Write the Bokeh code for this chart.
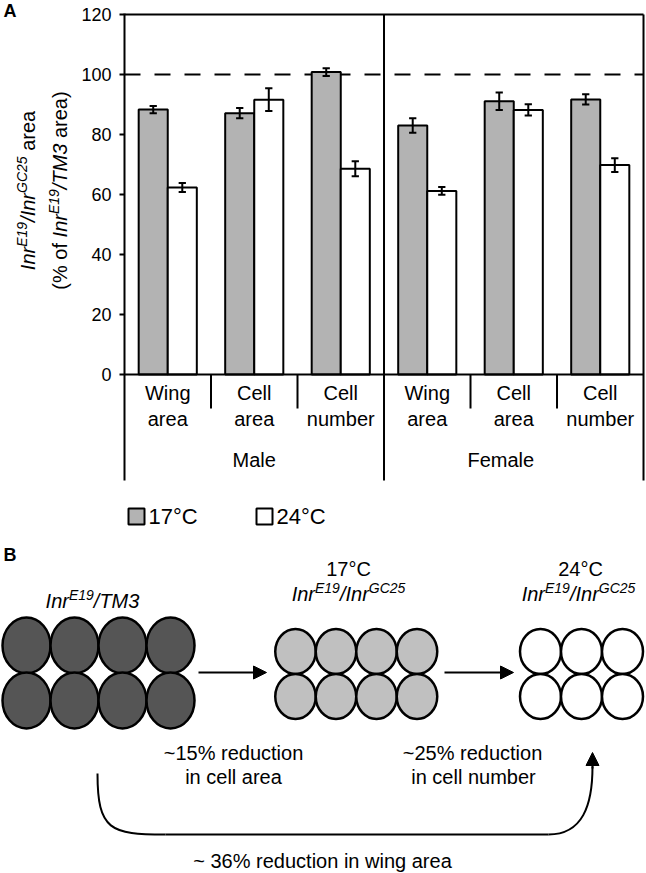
import math
import numpy as np
from bokeh.plotting import figure
from bokeh.layouts import row, column
from bokeh.models import Range1d, FixedTicker, Arrow, NormalHead
from bokeh.core.properties import value
from bokeh.embed import file_html
from bokeh.resources import INLINE

# ---------------- data (panel A) ----------------
label_line1 = ["Wing", "Cell", "Cell", "Wing", "Cell", "Cell"]
label_line2 = ["area", "area", "number", "area", "area", "number"]
sexes = ["Male", "Female"]
temps = ["17°C", "24°C"]
val_17 = [88.3, 87.1, 100.8, 83.0, 91.1, 91.7]
err_17 = [1.2, 1.7, 1.3, 2.4, 2.9, 1.7]
val_24 = [62.3, 91.6, 68.6, 61.2, 88.2, 69.8]
err_24 = [1.5, 3.8, 2.5, 1.3, 1.9, 2.3]
y_ticks = [0, 20, 40, 60, 80, 100, 120]
reference_level = 100

# ---------------- data (panel B) ----------------
cells_per_row = [4, 4, 3]
b_titles_temp = ["17°C", "24°C"]
b_notes = [("~15% reduction", "in cell area"), ("~25% reduction", "in cell number")]
b_total = "~ 36% reduction in wing area"

FONT = "Liberation Sans"
GRAY = "#b3b3b3"

AW = {' ': 278, '(': 333, ')': 333, '%': 889, '/': 278, '~': 584, '°': 400, '.': 278,
      'A': 667, 'B': 667, 'C': 722, 'E': 667, 'F': 611, 'G': 778, 'I': 278, 'M': 833,
      'T': 611, 'W': 944, 'a': 556, 'b': 556, 'c': 500, 'd': 556, 'e': 556, 'f': 278,
      'g': 556, 'h': 556, 'i': 222, 'l': 222, 'm': 833, 'n': 556, 'o': 556, 'r': 333,
      's': 500, 't': 278, 'u': 556, 'w': 722}


def tw(s, size):
    return sum(AW.get(c, 556) for c in s) * size / 1000.0


def rich(p, pieces, x, y, size, anchor="center", angle=0.0, sup_scale=0.7, sup_raise=0.3):
    ssize = size * sup_scale
    widths = [tw(t, ssize if s else size) for t, i, s in pieces]
    total = sum(widths)
    pos = -total / 2 if anchor == "center" else 0.0
    for (t, it, s), w in zip(pieces, widths):
        fs = ssize if s else size
        r = size * sup_raise if s else 0.0
        lead = len(t) - len(t.lstrip(" "))
        d = pos + tw(" " * lead, fs)
        if angle == 0:
            px, py = x + d, y - r
        else:
            px, py = x - r, y - d
        p.text(x=[px], y=[py], text=[t.strip(" ")], angle=angle, text_font=value(FONT),
               text_font_size=value(f"{fs:.1f}px"),
               text_font_style="italic" if it else "normal",
               text_align="left", text_baseline="alphabetic", text_color="black")
        pos += w


def plain(p, xs, ys, texts, size, align="center", style="normal"):
    p.text(x=xs, y=ys, text=texts, text_font=value(FONT), text_font_size=value(f"{size}px"),
           text_font_style=style, text_align=align, text_baseline="alphabetic", text_color="black")


def blank(p):
    p.xgrid.visible = False
    p.ygrid.visible = False
    p.outline_line_color = None
    p.background_fill_color = "white"
    p.border_fill_color = "white"


W_TOTAL, H_TOTAL = 646, 873
WY = 78
HA = 484
BOT = 4
PX_PER_UNIT = 3.0
Y_TOP = 120 + 14 / PX_PER_UNIT
Y_BOT = Y_TOP - (HA - BOT) / PX_PER_UNIT

# ---------------- left strip: y-axis title ----------------
pY = figure(width=WY, height=HA, x_range=Range1d(0, WY), y_range=Range1d(HA - BOT, 0),
            output_backend="svg", toolbar_location=None, x_axis_location=None,
            y_axis_location=None, title=None, min_border_left=0, min_border_right=0,
            min_border_top=0, min_border_bottom=BOT)
blank(pY)
plain(pY, [3], [10], ["A"], 18, align="left", style="bold")
rich(pY, [("Inr", True, False), ("E19", True, True), ("/", True, False), ("Inr", True, False),
          ("GC25", True, True), (" area", False, False)], 27, 190, 20, angle=math.pi / 2)
rich(pY, [("(% of ", False, False), ("Inr", True, False), ("E19", True, True),
          ("/TM3", True, False), (" area)", False, False)], 59, 190, 20, angle=math.pi / 2)

# ---------------- panel A: bar chart ----------------
pA = figure(width=W_TOTAL - WY, height=HA, x_range=Range1d(0, 6.023), y_range=Range1d(Y_BOT, Y_TOP),
            output_backend="svg", toolbar_location=None, x_axis_location=None,
            y_axis_location="left", title=None, min_border_left=46, min_border_right=1,
            min_border_top=0, min_border_bottom=BOT)
blank(pA)
ax = pA.yaxis[0]
ax.ticker = FixedTicker(ticks=y_ticks)
ax.bounds = (Y_BOT, 120.3)
ax.axis_line_width = 2
ax.axis_line_color = "black"
ax.major_tick_line_width = 2
ax.major_tick_line_color = "black"
ax.major_tick_out = 5
ax.major_tick_in = 0
ax.minor_tick_line_color = None
ax.major_label_text_font = FONT
ax.major_label_text_font_size = "18px"
ax.major_label_text_color = "black"
ax.major_label_standoff = 8

n = len(val_17)
centers = np.arange(n) + 0.5
off = 0.168
bw = 0.336

pA.line(x=[0, n], y=[reference_level, reference_level], line_color="black",
        line_width=2, line_dash="16 14")

pA.vbar(x=centers - off, top=val_17, bottom=0, width=bw, fill_color=GRAY,
        line_color="black", line_width=2)
pA.vbar(x=centers + off, top=val_24, bottom=0, width=bw, fill_color="white",
        line_color="black", line_width=2)

cap = 0.042
for xs, v, e in ((centers - off, val_17, err_17), (centers + off, val_24, err_24)):
    v = np.array(v)
    e = np.array(e)
    lo, hi = v - e, v + e
    pA.segment(x0=xs, y0=lo, x1=xs, y1=hi, line_color="black", line_width=2)
    pA.segment(x0=xs - cap, y0=lo, x1=xs + cap, y1=lo, line_color="black", line_width=2)
    pA.segment(x0=xs - cap, y0=hi, x1=xs + cap, y1=hi, line_color="black", line_width=2)

pA.segment(x0=[0, 0], y0=[0, 120], x1=[n, n], y1=[0, 120], line_color="black", line_width=2)
minor_x = [1, 2, 4, 5]
pA.segment(x0=minor_x, y0=[0] * 4, x1=minor_x, y1=[-11.3] * 4, line_color="black", line_width=2)
pA.segment(x0=[3, 6], y0=[-40, -40], x1=[3, 6], y1=[120, 120], line_color="black", line_width=2)

plain(pA, list(centers), [-6.0] * n, label_line1, 20)
plain(pA, list(centers), [-14.67] * n, label_line2, 20)
plain(pA, [1.5, 4.35], [-28.4, -28.4], sexes, 20)

# ---------------- panel B: legend + schematic ----------------
HB = H_TOTAL - HA
pB = figure(width=W_TOTAL, height=HB, x_range=Range1d(0, W_TOTAL), y_range=Range1d(H_TOTAL, HA),
            output_backend="svg", toolbar_location=None, x_axis_location=None,
            y_axis_location=None, title=None, min_border=0)
blank(pB)

pB.rect(x=[136, 264], y=[516, 516], width=16, height=16, fill_color=[GRAY, "white"],
        line_color="black", line_width=2)
plain(pB, [148, 276], [516, 516], temps, 22, align="left")

plain(pB, [3], [554], ["B"], 18, align="left", style="bold")

rich(pB, [("Inr", True, False), ("E19", True, True), ("/TM3", True, False)], 92, 600, 20)
plain(pB, [348, 580], [568, 568], b_titles_temp, 20)
for cx in (348, 578):
    rich(pB, [("Inr", True, False), ("E19", True, True), ("/", True, False),
              ("Inr", True, False), ("GC25", True, True)], cx, 593, 20)

groups = [
    dict(xs=[26, 74, 122, 170], ys=[645, 700], w=48, h=56, fill="#555555"),
    dict(xs=[295, 335.5, 376, 416.5], ys=[651, 696], w=40.5, h=45, fill="#c0c0c0"),
    dict(xs=[540, 581, 622], ys=[651, 696], w=41, h=45, fill="white"),
]
for g, k in zip(groups, cells_per_row):
    ex = [g["xs"][i] for _ in g["ys"] for i in range(k)]
    ey = [yy for yy in g["ys"] for _ in range(k)]
    pB.ellipse(x=ex, y=ey, width=g["w"], height=g["h"], fill_color=g["fill"],
               line_color="black", line_width=2.5)

for xs, xe in ((198, 266), (444, 513)):
    pB.add_layout(Arrow(x_start=xs, y_start=672, x_end=xe, y_end=672, line_width=2,
                        line_color="black",
                        end=NormalHead(size=13, fill_color="black", line_color="black")))

pB.bezier(x0=[97], y0=[773], x1=[165], y1=[834], cx0=[97], cy0=[830], cx1=[110], cy1=[834],
          line_color="black", line_width=2)
pB.segment(x0=[165], y0=[834], x1=[548], y1=[834], line_color="black", line_width=2)
pB.bezier(x0=[548], y0=[834], x1=[592], y1=[766], cx0=[582], cy0=[834], cx1=[592], cy1=[805],
          line_color="black", line_width=2)
pB.add_layout(Arrow(x_start=592, y_start=768, x_end=592, y_end=752, line_width=2,
                    line_color="black",
                    end=NormalHead(size=13, fill_color="black", line_color="black")))

plain(pB, [233, 472], [752, 752], [b_notes[0][0], b_notes[1][0]], 20)
plain(pB, [233, 473], [776, 776], [b_notes[0][1], b_notes[1][1]], 20)
plain(pB, [322], [860], [b_total], 20)

layout = column(row(pY, pA), pB)
open("out.html", "w").write(file_html(layout, INLINE))
